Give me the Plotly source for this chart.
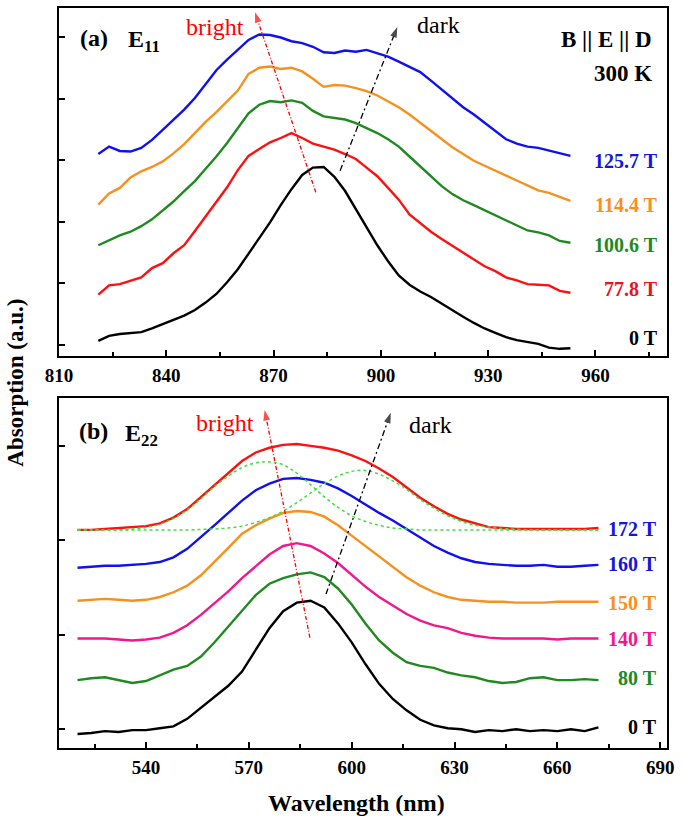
import plotly.graph_objects as go

# ---------------- Panel (a): E11 ----------------
e11_wavelength = [821, 824, 827, 830, 833, 836, 839, 842, 845, 848, 851, 854, 857, 860, 863,
                  866, 869, 872, 875, 878, 881, 884, 887, 890, 893, 896, 899, 902, 905, 908,
                  911, 914, 917, 920, 923, 926, 929, 932, 935, 938, 941, 944, 947, 950, 953]
e11_0T = [0.07, 0.15, 0.18, 0.19, 0.21, 0.27, 0.34, 0.40, 0.48, 0.57, 0.69, 0.83, 1.02, 1.23, 1.48,
          1.73, 1.99, 2.27, 2.53, 2.76, 2.88, 2.89, 2.73, 2.50, 2.20, 1.90, 1.62, 1.36, 1.13, 0.98,
          0.87, 0.78, 0.67, 0.57, 0.46, 0.36, 0.27, 0.20, 0.13, 0.08, 0.05, 0.02, -0.04, -0.06, -0.05]
e11_77T = [0.82, 0.97, 0.99, 1.05, 1.10, 1.25, 1.33, 1.49, 1.62, 1.85, 2.09, 2.33, 2.56, 2.84, 3.07,
           3.18, 3.29, 3.36, 3.44, 3.36, 3.27, 3.22, 3.17, 3.10, 3.02, 2.88, 2.74, 2.55, 2.36, 2.12,
           1.98, 1.84, 1.72, 1.61, 1.49, 1.39, 1.28, 1.20, 1.10, 1.05, 0.99, 0.98, 0.97, 0.88, 0.85]
e11_100T = [1.62, 1.70, 1.78, 1.84, 1.93, 2.04, 2.18, 2.33, 2.50, 2.66, 2.86, 3.06, 3.28, 3.52, 3.76,
            3.90, 3.96, 3.94, 3.97, 3.93, 3.80, 3.71, 3.68, 3.66, 3.60, 3.52, 3.44, 3.34, 3.22, 3.06,
            2.90, 2.74, 2.58, 2.45, 2.35, 2.27, 2.19, 2.11, 2.03, 1.95, 1.86, 1.83, 1.78, 1.69, 1.66]
e11_114T = [2.28, 2.46, 2.55, 2.72, 2.82, 2.89, 2.98, 3.11, 3.26, 3.44, 3.62, 3.78, 3.95, 4.13, 4.40,
            4.50, 4.52, 4.48, 4.50, 4.44, 4.32, 4.19, 4.22, 4.21, 4.17, 4.12, 4.05, 3.96, 3.86, 3.74,
            3.61, 3.47, 3.34, 3.21, 3.10, 2.99, 2.91, 2.83, 2.75, 2.67, 2.58, 2.51, 2.47, 2.40, 2.34]
e11_125T = [3.10, 3.22, 3.15, 3.14, 3.20, 3.33, 3.49, 3.65, 3.82, 4.01, 4.24, 4.46, 4.63, 4.79, 4.95,
            5.04, 5.03, 4.99, 4.93, 4.90, 4.84, 4.75, 4.74, 4.78, 4.76, 4.79, 4.73, 4.68, 4.60, 4.52,
            4.43, 4.29, 4.15, 4.00, 3.86, 3.74, 3.61, 3.47, 3.34, 3.27, 3.22, 3.20, 3.16, 3.11, 3.07]
e11_series = [e11_0T, e11_77T, e11_100T, e11_114T, e11_125T]
e11_labels = ["0 T", "77.8 T", "100.6 T", "114.4 T", "125.7 T"]
e11_label_pos = [0.11, 0.91, 1.62, 2.28, 2.98]
e11_xticks = [810, 840, 870, 900, 930, 960]

# ---------------- Panel (b): E22 ----------------
e22_wavelength = [520, 524, 528, 532, 536, 540, 544, 548, 552, 556, 560, 564, 568, 572, 576, 580,
                  584, 588, 592, 596, 600, 604, 608, 612, 616, 620, 624, 628, 632, 636, 640, 644,
                  648, 652, 656, 660, 664, 668, 672]
e22_0T = [-0.05, -0.04, -0.02, -0.03, -0.01, -0.01, 0.01, 0.03, 0.11, 0.23, 0.35, 0.46, 0.61, 0.84,
          1.07, 1.25, 1.34, 1.36, 1.29, 1.12, 0.92, 0.69, 0.48, 0.32, 0.20, 0.10, 0.04, 0.01, 0.00,
          -0.03, -0.01, -0.02, 0.00, -0.02, -0.01, -0.02, 0.00, -0.02, 0.02]
e22_80T = [0.52, 0.54, 0.55, 0.52, 0.49, 0.51, 0.57, 0.63, 0.67, 0.77, 0.92, 1.09, 1.25, 1.42, 1.54,
           1.60, 1.64, 1.66, 1.61, 1.49, 1.32, 1.12, 0.94, 0.81, 0.71, 0.67, 0.65, 0.60, 0.57, 0.55,
           0.51, 0.49, 0.50, 0.54, 0.55, 0.52, 0.52, 0.53, 0.52]
e22_140T = [0.96, 0.96, 0.96, 0.95, 0.94, 0.95, 0.97, 1.02, 1.10, 1.21, 1.33, 1.46, 1.60, 1.73, 1.85,
            1.94, 1.97, 1.94, 1.86, 1.76, 1.63, 1.51, 1.40, 1.31, 1.22, 1.15, 1.10, 1.07, 1.02, 0.99,
            0.97, 0.96, 0.96, 0.96, 0.96, 0.95, 0.96, 0.96, 0.96]
e22_150T = [1.36, 1.37, 1.38, 1.37, 1.36, 1.37, 1.40, 1.45, 1.52, 1.63, 1.77, 1.92, 2.07, 2.16, 2.23,
            2.29, 2.31, 2.30, 2.25, 2.16, 2.05, 1.94, 1.83, 1.72, 1.61, 1.52, 1.45, 1.40, 1.37, 1.36,
            1.35, 1.35, 1.34, 1.34, 1.34, 1.35, 1.35, 1.35, 1.35]
e22_160T = [1.71, 1.72, 1.73, 1.73, 1.74, 1.75, 1.77, 1.82, 1.91, 2.03, 2.16, 2.29, 2.42, 2.53, 2.60,
            2.65, 2.66, 2.64, 2.61, 2.55, 2.47, 2.38, 2.29, 2.21, 2.12, 2.03, 1.94, 1.87, 1.81, 1.77,
            1.75, 1.74, 1.73, 1.73, 1.74, 1.72, 1.72, 1.73, 1.74]
e22_172T = [2.11, 2.11, 2.12, 2.13, 2.14, 2.15, 2.18, 2.24, 2.33, 2.46, 2.59, 2.72, 2.84, 2.93, 2.98,
            3.01, 3.02, 3.00, 2.98, 2.95, 2.90, 2.84, 2.76, 2.67, 2.56, 2.45, 2.36, 2.28, 2.22, 2.18,
            2.14, 2.13, 2.12, 2.12, 2.12, 2.12, 2.12, 2.12, 2.13]
e22_fit_bright = [2.11, 2.11, 2.11, 2.11, 2.12, 2.135, 2.17, 2.23, 2.32, 2.44, 2.57, 2.68, 2.77, 2.82,
                  2.83, 2.80, 2.71, 2.59, 2.46, 2.35, 2.26, 2.20, 2.16, 2.13, 2.12, 2.11, 2.11, 2.11,
                  2.11, 2.11, 2.11, 2.11, 2.11, 2.11, 2.11, 2.11, 2.11, 2.11, 2.11]
e22_fit_dark = [2.11, 2.11, 2.11, 2.11, 2.11, 2.11, 2.11, 2.11, 2.11, 2.115, 2.12, 2.13, 2.15, 2.19,
                2.24, 2.31, 2.40, 2.50, 2.60, 2.68, 2.73, 2.74, 2.70, 2.63, 2.54, 2.43, 2.34, 2.26,
                2.20, 2.16, 2.14, 2.125, 2.117, 2.11, 2.11, 2.11, 2.11, 2.11, 2.11]
e22_series = [e22_0T, e22_80T, e22_140T, e22_150T, e22_160T, e22_172T]
e22_labels = ["0 T", "80 T", "140 T", "150 T", "160 T", "172 T"]
e22_label_pos = [0.02, 0.54, 0.96, 1.34, 1.75, 2.12]
e22_xticks = [540, 570, 600, 630, 660, 690]

# ---------------- styles ----------------
FONT = "Liberation Serif, Times New Roman, serif"
a_colors = ["#000000", "#ff1010", "#1f8a1f", "#f7901e", "#1010f0"]
a_label_colors = ["#000000", "#e8141c", "#1f8a1f", "#f7901e", "#1515dd"]
b_colors = ["#000000", "#1f8a1f", "#f0188c", "#f7901e", "#1010f0", "#ff1010"]
b_label_colors = ["#000000", "#1f8a1f", "#f0188c", "#f7901e", "#1515dd", "#1515dd"]

fig = go.Figure()

for ys, c, name in zip(e11_series, a_colors, e11_labels):
    fig.add_trace(go.Scatter(x=e11_wavelength, y=ys, mode="lines", name=name,
                             line=dict(color=c, width=2.4), xaxis="x", yaxis="y",
                             showlegend=False))

for ys, c, name in zip(e22_series, b_colors, e22_labels):
    fig.add_trace(go.Scatter(x=e22_wavelength, y=ys, mode="lines", name=name,
                             line=dict(color=c, width=2.4), xaxis="x2", yaxis="y2",
                             showlegend=False))

for ys in [e22_fit_bright, e22_fit_dark]:
    fig.add_trace(go.Scatter(x=e22_wavelength, y=ys, mode="lines", line_shape="spline",
                             line=dict(color="#3ee03e", width=1.5, dash="dot"),
                             xaxis="x2", yaxis="y2", showlegend=False))

# dashed arrows with arrow-shaped end markers
arrows = [
    ("x", "y", 881.8, 2.48, 864.8, 5.40, "#ff0000", "4px,2px,1px,2px"),
    ("x", "y", 888.6, 2.83, 904.6, 5.16, "#000000", "6px,3px,2px,3px"),
    ("x2", "y2", 587.8, 0.97, 574.6, 3.38, "#ff0000", "4px,2px,1px,2px"),
    ("x2", "y2", 592.5, 1.43, 611.4, 3.35, "#000000", "6px,3px,2px,3px"),
]
for xa, ya, x0, y0, x1, y1, col, dash in arrows:
    fig.add_trace(go.Scatter(x=[x0, x1], y=[y0, y1], mode="lines+markers",
                             line=dict(color=col, width=1.3, dash=dash),
                             marker=dict(symbol=["circle", "arrow"], size=[0, 11],
                                         angleref="previous", color=col,
                                         line=dict(width=0)),
                             xaxis=xa, yaxis=ya, showlegend=False, hoverinfo="skip"))

annotations = []
# series labels
for lab, pos, col in zip(e11_labels, e11_label_pos, a_label_colors):
    annotations.append(dict(x=978.0, y=pos, xref="x", yref="y", text=lab, showarrow=False,
                            xanchor="right", yanchor="middle",
                            font=dict(family=FONT, size=20, color=col, weight="bold")))
for lab, pos, col in zip(e22_labels, e22_label_pos, b_label_colors):
    annotations.append(dict(x=689.8, y=pos, xref="x2", yref="y2", text=lab, showarrow=False,
                            xanchor="right", yanchor="middle",
                            font=dict(family=FONT, size=20, color=col, weight="bold")))

def txt(x, y, xr, yr, text, size, color="#000000", bold=True, xanchor="left"):
    annotations.append(dict(x=x, y=y, xref=xr, yref=yr, text=text, showarrow=False,
                            xanchor=xanchor, yanchor="middle",
                            font=dict(family=FONT, size=size, color=color,
                                      weight="bold" if bold else "normal")))

txt(815.2, 4.98, "x", "y", "(a)", 24)
txt(828.6, 4.94, "x", "y", "E<sub>11</sub>", 24)
txt(976.5, 4.95, "x", "y", "B || E || D", 23, xanchor="right")
txt(976.5, 4.40, "x", "y", "300 K", 23, xanchor="right")
txt(853.5, 5.16, "x", "y", "bright", 24, color="#ff0000", bold=False, xanchor="center")
txt(916.1, 5.19, "x", "y", "dark", 24, bold=False, xanchor="center")

txt(519.8, 3.16, "x2", "y2", "(b)", 24)
txt(533.3, 3.12, "x2", "y2", "E<sub>22</sub>", 24)
txt(562.9, 3.24, "x2", "y2", "bright", 24, color="#ff0000", bold=False, xanchor="center")
txt(622.9, 3.22, "x2", "y2", "dark", 24, bold=False, xanchor="center")

# axis titles
annotations.append(dict(x=0.49, y=-0.074, xref="paper", yref="paper", text="Wavelength (nm)",
                        showarrow=False, xanchor="center", yanchor="middle",
                        font=dict(family=FONT, size=24, color="#000000", weight="bold")))
annotations.append(dict(x=-0.072, y=0.494, xref="paper", yref="paper", text="Absorption (a.u.)",
                        showarrow=False, xanchor="center", yanchor="middle", textangle=-90,
                        font=dict(family=FONT, size=23, color="#000000", weight="bold")))

xcommon = dict(showline=True, linecolor="#000000", linewidth=2, mirror=True,
               ticks="inside", ticklen=6, tickwidth=1.5, tickcolor="#000000",
               showgrid=False, zeroline=False, ticklabelstandoff=1,
               tickfont=dict(family=FONT, size=19, color="#000000", weight="bold"))
ycommon = dict(showline=True, linecolor="#000000", linewidth=2, mirror=True,
               ticks="inside", ticklen=6, tickwidth=1.5, tickcolor="#000000",
               showgrid=False, zeroline=False, showticklabels=False, dtick=1, tick0=0)

fig.update_layout(
    width=685, height=816,
    margin=dict(l=59, r=18, t=6, b=68),
    paper_bgcolor="#ffffff", plot_bgcolor="#ffffff",
    showlegend=False,
    xaxis=dict(domain=[0, 1], anchor="y", range=[810, 980], tickmode="array",
               tickvals=e11_xticks, ticktext=[str(v) for v in e11_xticks],
               minor=dict(ticks="inside", ticklen=4, tickwidth=1.5, tickcolor="#000000",
                          tick0=825, dtick=30, showgrid=False),
               **xcommon),
    yaxis=dict(domain=[0.5296, 1], anchor="x", range=[-0.178, 5.469], **ycommon),
    xaxis2=dict(domain=[0, 1], anchor="y2", range=[514.6, 692], tickmode="array",
                tickvals=e22_xticks, ticktext=[str(v) for v in e22_xticks],
                minor=dict(ticks="inside", ticklen=4, tickwidth=1.5, tickcolor="#000000",
                           tick0=525, dtick=30, showgrid=False),
                **xcommon),
    yaxis2=dict(domain=[0, 0.4730], anchor="x2", range=[-0.199, 3.507], **ycommon),
    annotations=annotations,
)

fig.write_html("out.html", config={"displayModeBar": False},
               post_script="document.body.style.margin='0';document.body.style.overflow='hidden';")
